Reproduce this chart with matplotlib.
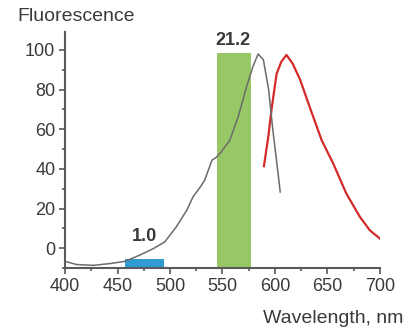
import matplotlib
matplotlib.use("Agg")
import matplotlib.pyplot as plt
from matplotlib.ticker import MultipleLocator

plt.rcParams['font.family'] = ['Liberation Sans', 'DejaVu Sans']

# Excitation (gray) spectrum
ex_wl = [400, 411, 427, 443, 457, 471, 484, 495, 506, 516, 522, 529, 533, 540, 544,
         549, 557, 565, 573, 579, 584, 589, 594, 598, 603, 605]
ex_val = [-6.6, -8.2, -8.6, -7.7, -6.6, -3.5, -0.2, 3.2, 10.8, 19.2, 26, 31, 34.3, 44.4, 45.8,
          48.7, 54.5, 66.3, 81.5, 91.6, 98, 95, 80, 59.6, 37.7, 28.4]

# Emission (red) spectrum
em_wl = [589.5, 593.6, 597, 601.6, 606, 611, 617, 624, 633, 644.5, 655.5, 668, 681, 690.5, 700]
em_val = [41.4, 56, 71, 88, 94, 97.5, 93, 85, 71.4, 54.5, 42.8, 27.6, 15.8, 9, 4.9]

# Filter bands
band_start = [457, 545]
band_end = [494, 577]
band_bottom = [-9.6, -10]
band_top = [-5.6, 98.5]
band_colors = ['#2e9bd2', '#98c866']
band_labels = ['1.0', '21.2']
label_pos = [(476, 1.5), (560, 100.5)]

fig = plt.figure(figsize=(4.17, 3.31), dpi=100)
ax = fig.add_axes([0.156, 0.190, 0.755, 0.713])

for s, e, b, t, c in zip(band_start, band_end, band_bottom, band_top, band_colors):
    ax.bar(s, t - b, width=e - s, bottom=b, align='edge', color=c, zorder=1, linewidth=0)

ax.plot(ex_wl, ex_val, color='#6b6b6b', lw=1.1, zorder=3)
ax.plot(em_wl, em_val, color='#d42a2a', lw=1.6, zorder=2)

for lab, (x, y) in zip(band_labels, label_pos):
    ax.text(x, y, lab, ha='center', va='bottom', fontsize=13, fontweight='bold', color='#3a3a3a')

ax.set_xlim(400, 700)
ax.set_ylim(-10, 109)
ax.set_xticks([400, 450, 500, 550, 600, 650, 700])
ax.set_yticks([0, 20, 40, 60, 80, 100])
ax.xaxis.set_minor_locator(MultipleLocator(25))
ax.yaxis.set_minor_locator(MultipleLocator(10))

for side in ['top', 'right']:
    ax.spines[side].set_visible(False)
for side in ['left', 'bottom']:
    ax.spines[side].set_color('#5a5a5a')
    ax.spines[side].set_linewidth(1.5)

ax.tick_params(axis='both', which='major', direction='out', length=4, width=1.2,
               color='#5a5a5a', labelsize=13, labelcolor='#3a3a3a', pad=3)
ax.tick_params(axis='both', which='minor', direction='out', length=2, width=1.2, color='#5a5a5a')

fig.text(0.042, 0.975, 'Fluorescence', ha='left', va='top', fontsize=14, color='#3a3a3a')
fig.text(0.968, 0.012, 'Wavelength, nm', ha='right', va='bottom', fontsize=14, color='#3a3a3a')

fig.savefig('out.png', dpi=100)
